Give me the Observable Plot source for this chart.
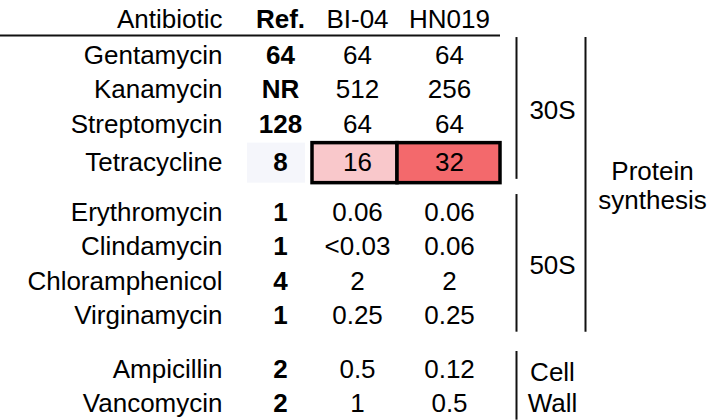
<!DOCTYPE html>
<html><head><meta charset="utf-8">
<script src="https://cdn.jsdelivr.net/npm/d3@7"></script>
<script src="https://cdn.jsdelivr.net/npm/@observablehq/plot@0.6"></script>
<style>body{margin:0;background:#fff}svg{display:block}</style>
</head><body><div id="chart"></div>
<script>
// ---- data ----
const headers = ["Antibiotic", "Ref.", "BI-04", "HN019"];
const antibiotics = ["Gentamycin","Kanamycin","Streptomycin","Tetracycline","Erythromycin","Clindamycin","Chloramphenicol","Virginamycin","Ampicillin","Vancomycin"];
const targets = ["30S","30S","30S","30S","50S","50S","50S","50S","Cell\nWall","Cell\nWall"];
const processes = ["Protein\nsynthesis","Protein\nsynthesis","Protein\nsynthesis","Protein\nsynthesis","Protein\nsynthesis","Protein\nsynthesis","Protein\nsynthesis","Protein\nsynthesis","",""];
const refValues = ["64","NR","128","8","1","1","4","1","2","2"];
const bi04Values = ["64","512","64","16","0.06","<0.03","2","0.25","0.5","1"];
const hn019Values = ["64","256","64","32","0.06","0.06","2","0.25","0.12","0.5"];
const highlighted = ["Tetracycline"];

// ---- layout (styles / positions live here, not in the data) ----
const W = 719, H = 420;
const font = "Liberation Sans, Arial, sans-serif";
const fs = 26;
const colX = {label: 222, ref: 280, bi: 357, hn: 449, groupRule: 516, groupText: 552, superRule: 585, superText: 652};
const cellEdges = {ref: [247, 305], bi: [312, 397], hn: [397, 500]};
const cellFill = {ref: "#f5f6fb", bi: "#f9c8cb", hn: "#f3696c"};
const groupGap = 0.55, highlightShift = 0.12;

// compute row positions (row units) from index and group
let g = -1, prev = null;
const rows = antibiotics.map((name, i) => {
  if (targets[i] !== prev) { g++; prev = targets[i]; }
  const hl = highlighted.includes(name);
  return {name, target: targets[i], process: processes[i], ref: refValues[i], bi: bi04Values[i], hn: hn019Values[i],
          hl, r: i + g * groupGap + (hl ? highlightShift : 0)};
});
const headerR = -1.04, headerRuleR = -0.58;

const refCells = rows.map(d => ({x: colX.ref, r: d.r, text: d.ref}));
const strainCells = rows.flatMap(d => [
  {x: colX.bi, r: d.r, text: d.bi},
  {x: colX.hn, r: d.r, text: d.hn}
]);
const hlCells = rows.filter(d => d.hl).flatMap(d => [
  {k: "ref", r: d.r}, {k: "bi", r: d.r}, {k: "hn", r: d.r}
]);

function spans(key) {
  const out = [];
  for (const d of rows) {
    const v = d[key];
    if (!v) continue;
    let s = out.find(o => o.label === v);
    if (!s) { s = {label: v, first: d.r, last: d.r}; out.push(s); }
    s.last = d.r;
  }
  return out.map(s => ({...s, top: s.first - 0.52, bottom: s.last + 0.47, mid: (s.first + s.last) / 2}));
}
const groupSpans = spans("target");
const processSpans = spans("process");

const headerPlain = [{x: colX.bi, text: headers[2]}, {x: colX.hn, text: headers[3]}];

const plot = Plot.plot({
  width: W, height: H,
  margin: 0,
  style: {fontFamily: font, background: "#fff"},
  x: {type: "linear", domain: [0, W], range: [0, W], axis: null},
  y: {type: "linear", domain: [-55 / 34.5, (H - 55) / 34.5], range: [0, H], axis: null},
  marks: [
    Plot.rect(hlCells.filter(d => d.k === "ref"), {x1: d => cellEdges[d.k][0], x2: d => cellEdges[d.k][1], y1: d => d.r - 0.58, y2: d => d.r + 0.58, fill: d => cellFill[d.k]}),
    Plot.rect(hlCells.filter(d => d.k !== "ref"), {x1: d => cellEdges[d.k][0], x2: d => cellEdges[d.k][1], y1: d => d.r - 0.58, y2: d => d.r + 0.58, fill: d => cellFill[d.k], stroke: "#000", strokeWidth: 3.5}),
    Plot.ruleY([headerRuleR], {y: d => d, x1: () => 0, x2: () => cellEdges.hn[1], stroke: "#111", strokeWidth: 2}),
    Plot.ruleX(groupSpans, {x: () => colX.groupRule, y1: "top", y2: "bottom", stroke: "#111", strokeWidth: 2}),
    Plot.ruleX(processSpans, {x: () => colX.superRule, y1: "top", y2: "bottom", stroke: "#111", strokeWidth: 2}),
    Plot.text([headers[0]], {x: () => colX.label, y: () => headerR, text: d => d, textAnchor: "end", fontSize: fs, fill: "#000"}),
    Plot.text([headers[1]], {x: () => colX.ref, y: () => headerR, text: d => d, textAnchor: "middle", fontWeight: "bold", fontSize: fs, fill: "#000"}),
    Plot.text(headerPlain, {x: "x", y: () => headerR, text: "text", textAnchor: "middle", fontSize: fs, fill: "#000"}),
    Plot.text(rows, {x: () => colX.label, y: "r", text: "name", textAnchor: "end", fontSize: fs, fill: "#000"}),
    Plot.text(refCells, {x: "x", y: "r", text: "text", textAnchor: "middle", fontWeight: "bold", fontSize: fs, fill: "#000"}),
    Plot.text(strainCells, {x: "x", y: "r", text: "text", textAnchor: "middle", fontSize: fs, fill: "#000"}),
    Plot.text(groupSpans, {x: () => colX.groupText, y: "mid", text: "label", textAnchor: "middle", fontSize: fs, lineHeight: 1.2, fill: "#000"}),
    Plot.text(processSpans, {x: () => colX.superText, y: d => (d.top + d.bottom) / 2, text: "label", textAnchor: "middle", fontSize: fs, lineHeight: 1.15, fill: "#000"})
  ]
});
document.getElementById("chart").appendChild(plot);
</script>
</body></html>
